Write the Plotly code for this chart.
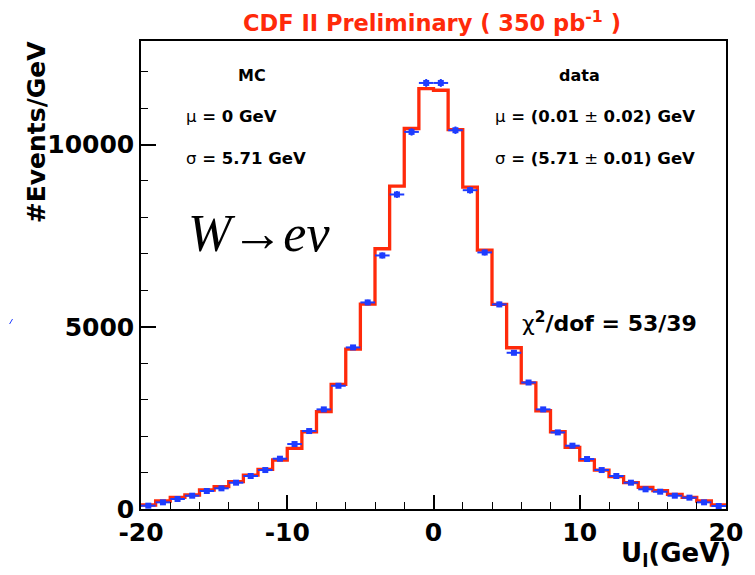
import numpy as np
import plotly.graph_objects as go

# ---- data (bins of 1 GeV from -20 to 20) ----
bin_edges = list(range(-20, 21))
mc_values = [110, 219, 320, 384, 521, 612, 749, 932, 1088, 1344,
             1664, 2120, 2669, 3419, 4387, 5621, 7140, 8857, 10439, 11535,
             11489, 10411, 8829, 7100, 5613, 4424, 3463, 2695, 2120, 1691,
             1344, 1069, 886, 722, 594, 503, 402, 320, 219, 110]
data_values = [91, 183, 274, 365, 494, 567, 722, 905, 1069, 1380,
               1782, 2139, 2733, 3381, 4433, 5667, 6956, 8629, 10346, 11689,
               11689, 10392, 8747, 7039, 5613, 4286, 3470, 2733, 2102, 1737,
               1371, 1069, 905, 722, 540, 475, 365, 311, 183, 82]
x_ticks = [-20, -10, 0, 10, 20]
y_ticks = [0, 5000, 10000]

RED = "#ff2a0a"
BLUE = "#1e3cff"
FONT = "DejaVu Sans"

centers = [(a + b) / 2 for a, b in zip(bin_edges[:-1], bin_edges[1:])]
half_w = [(b - a) / 2 for a, b in zip(bin_edges[:-1], bin_edges[1:])]

fig = go.Figure()

# MC histogram (step line)
fig.add_trace(go.Scatter(
    x=bin_edges, y=mc_values + [mc_values[-1]],
    mode="lines", line=dict(color=RED, width=3.3, shape="hv"),
    showlegend=False, hoverinfo="skip"))

# data points with error bars
fig.add_trace(go.Scatter(
    x=centers, y=data_values, mode="markers",
    marker=dict(symbol="square", size=6, color=BLUE),
    error_x=dict(type="data", array=half_w, color=BLUE, thickness=2, width=0),
    error_y=dict(type="data", array=list(np.sqrt(data_values)), color=BLUE,
                 thickness=2, width=0),
    showlegend=False))

OFF = 8  # page body margin of the browser
W, H = 755 - OFF, 575 - OFF
L, R, T, B = 141 - OFF, 733 - OFF, 41 - OFF, 509 - OFF


def px(x):
    return (x - OFF - L) / (R - L)


def py(y):
    return (B - (y - OFF)) / (B - T)


annots = []


def add(text, x, y, size, xanchor="left", color="black", family=FONT, angle=0):
    annots.append(dict(text=text, x=px(x), y=py(y), xref="paper", yref="paper",
                       xanchor=xanchor, yanchor="middle", showarrow=False,
                       textangle=angle,
                       font=dict(family=family, size=size, color=color)))


add("<b>CDF II Preliminary ( 350 pb<sup>-1</sup> )</b>", 435, 22, 22.5,
    xanchor="center", color=RED)
add("<b>MC</b>", 253, 76, 16, xanchor="center")
add("μ<b> = 0 GeV</b>", 185, 116, 16.5)
add("σ<b> = 5.71 GeV</b>", 185, 158, 16.5)
add("<b>data</b>", 585, 76, 16, xanchor="center")
add("μ<b> = (0.01</b> ± <b>0.02) GeV</b>", 497, 116, 16.5)
add("σ<b> = (5.71</b> ± <b>0.01) GeV</b>", 497, 158, 16.5)
add("<i>W</i>→<i>eν</i>", 187, 233, 52, family="Liberation Serif")
add("χ<b><sup>2</sup>/dof = 53/39</b>", 525, 322, 22)
add("<b>#Events/GeV</b>", 36, 132, 25, xanchor="center", angle=-90)
add("<b>U<sub>l</sub>(GeV)</b>", 740, 554, 26, xanchor="right")

fig.update_layout(
    width=W, height=H,
    margin=dict(l=L, r=W - R, t=T, b=H - B, pad=0),
    paper_bgcolor="white", plot_bgcolor="white",
    annotations=annots,
    shapes=[dict(type="line", xref="paper", yref="paper",
                 x0=px(0 + OFF), y0=py(324), x1=px(3 + OFF), y1=py(319),
                 line=dict(color=BLUE, width=1))],
)

fig.update_xaxes(
    range=[-20, 20], tickvals=x_ticks, ticktext=[str(v) for v in x_ticks],
    ticks="inside", ticklen=14, tickwidth=1.5, tickcolor="black",
    minor=dict(dtick=2, tick0=0, ticks="inside", ticklen=7, tickwidth=1.2,
               tickcolor="black"),
    showline=True, linecolor="black", linewidth=1.5, mirror=True,
    showgrid=False, zeroline=False,
    tickfont=dict(family=FONT, size=25, color="black", weight="bold"))

fig.update_yaxes(
    range=[0, 12840], tickvals=y_ticks, ticktext=[str(v) for v in y_ticks],
    ticks="inside", ticklen=15, tickwidth=1.5, tickcolor="black",
    minor=dict(dtick=1000, tick0=0, ticks="inside", ticklen=7, tickwidth=1.2,
               tickcolor="black"),
    showline=True, linecolor="black", linewidth=1.5, mirror=True,
    showgrid=False, zeroline=False,
    tickfont=dict(family=FONT, size=25, color="black", weight="bold"))

fig.write_html("out.html")
